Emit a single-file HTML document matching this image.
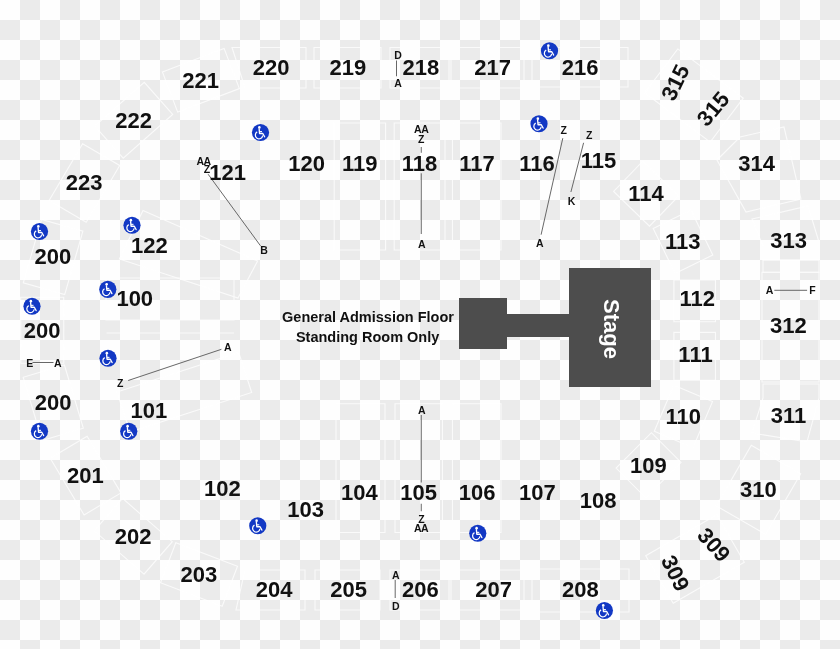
<!DOCTYPE html>
<html><head><meta charset="utf-8"><style>
html,body{margin:0;padding:0;width:840px;height:649px;overflow:hidden;background:#fefefe;}
svg{position:absolute;left:0;top:0;display:block;will-change:transform}
text{font-family:"Liberation Sans",sans-serif;font-weight:bold}
</style></head><body>
<svg width="840" height="649" viewBox="0 0 840 649">
<defs>
<pattern id="ck" x="0" y="0" width="40" height="40" patternUnits="userSpaceOnUse">
<rect x="0" y="0" width="40" height="40" fill="#fefefe"/>
<rect x="20" y="0" width="20" height="20" fill="#ebebeb"/>
<rect x="0" y="20" width="20" height="20" fill="#ebebeb"/>
</pattern>
<g id="wc">
<circle cx="0" cy="0" r="8.6" fill="#1238c4"/>
<circle cx="-1.15" cy="-5.1" r="1.3" fill="#fff"/>
<path d="M-1.35,-3.5 L-0.95,1.0 L2.3,1.0 L4.1,4.3" fill="none" stroke="#fff" stroke-width="1.35" stroke-linejoin="round" stroke-linecap="round"/>
<path d="M-1.1,-0.9 L1.5,-0.9" fill="none" stroke="#fff" stroke-width="1.1"/>
<path d="M-3.3,-0.6 A3.7,3.7 0 1 0 2.2,3.0" fill="none" stroke="#fff" stroke-width="1.25"/>
</g>
</defs>
<rect x="0" y="0" width="840" height="649" fill="url(#ck)"/>

<g fill="none" stroke="#ffffff" stroke-width="1.1" opacity="0.75">
<polygon points="232,47.5 306,47.5 306,88 245,88"/>
<polygon points="314,47.5 381,47.5 381,88 314,88"/>
<polygon points="390,47.5 449,47.5 449,88 390,88"/>
<polygon points="451,47.5 524,47.5 524,88 451,88"/>
<polygon points="532,47.5 628,47.5 628,87 532,87"/>
<polygon points="245,570 305,570 305,610 236,610"/>
<polygon points="315,570 380,570 380,610 315,610"/>
<polygon points="390,570 449,570 449,610 390,610"/>
<polygon points="451,570 524,570 524,610 451,610"/>
<polygon points="532,569 629,569 629,612 532,612"/>
<polygon points="334.2,123 385.6,123 385.6,250 334.2,250"/>
<polygon points="394.2,123 445,123 445,250 394.2,250"/>
<polygon points="452.5,123 501,123 501,250 452.5,250"/>
<polygon points="336,403.75 385,403.75 385,532.5 336,532.5"/>
<polygon points="395,403.75 442.5,403.75 442.5,532.5 395,532.5"/>
<polygon points="452.5,403.75 501,403.75 501,532.5 452.5,532.5"/>
<polygon points="673.9,280 715.5,280 715.5,321.7 673.9,321.7"/>
<polygon points="673.9,332.4 715.5,332.4 715.5,380.2 673.9,380.2"/>
<polygon points="762,272.4 819,272.4 819,382 762,382"/>
<polygon points="162.4,71.9 224.1,48.4 239.4,88.6 177.7,112.1"/>
<polygon points="94.8,126.0 144.3,82.3 172.7,114.5 123.2,158.2"/>
<polygon points="49.1,200.5 82.6,143.7 119.7,165.5 86.2,222.3"/>
<polygon points="23.3,282.8 41.5,219.4 82.9,231.2 64.7,294.6"/>
<polygon points="20.8,363.3 20.7,297.3 63.7,297.2 63.8,363.2"/>
<polygon points="42.1,440.5 23.2,377.3 64.4,365.0 83.3,428.2"/>
<polygon points="84.1,515.0 50.2,458.3 87.1,436.2 121.0,492.9"/>
<polygon points="144.0,574.1 94.2,530.8 122.5,498.4 172.3,541.7"/>
<polygon points="222.2,606.3 160.5,582.8 175.8,542.7 237.5,566.2"/>
<polygon points="143,210.5 257.6,261 238,298 119.4,259"/>
<polygon points="106,278 234,278 234,320 106,320"/>
<polygon points="106.5,333 234,333"/>
<polygon points="117,392 238.7,352.5 251.7,392.5 130,432"/>
<polygon points="717,160 740,137 784,127 801,199 746,212"/>
<polygon points="752,219 808,206 819,242 819,260 763,260 763,246"/>
<polygon points="763,260 819,260 819,272.4 763,272.4"/>
<polygon points="763,384 819,384 819,398 807,442 752,433 763,398"/>
<polygon points="800.7,473.8 765.7,534.4 716.3,505.9 751.3,445.3"/>
<polygon points="677.8,48.9 743.3,98.2 710.2,142.1 644.7,92.8"/>
<polygon points="744.3,562.3 673.2,603.3 645.7,555.7 716.8,514.7"/>
<polygon points="642.8,161.2 678.7,196.0 649.5,226.2 613.6,191.4"/>
<polygon points="690.9,210.1 712.8,255.1 675.1,273.5 653.2,228.5"/>
<polygon points="712.5,401.6 693.0,447.7 654.3,431.3 673.8,385.2"/>
<polygon points="681.1,462.4 645.8,497.8 616.1,468.1 651.4,432.7"/>
</g>
<g fill="#4d4d4d"><rect x="569" y="268" width="82" height="119"/><rect x="459" y="298" width="48" height="51"/><rect x="506" y="314" width="64" height="23"/></g>
<text x="611.5" y="329" transform="rotate(90 611.5 329)" text-anchor="middle" dominant-baseline="central" fill="#fff" font-size="22">Stage</text>
<g fill="#111" font-size="14.5" text-anchor="middle"><text x="368" y="322.4">General Admission Floor</text><text x="367.6" y="342.1">Standing Room Only</text></g>
<g stroke="#606060" stroke-width="0.95" fill="none">
<line x1="396.5" y1="60.5" x2="396.5" y2="76.25"/>
<line x1="421.25" y1="147" x2="421.25" y2="152.8"/>
<line x1="421.25" y1="173.3" x2="421.25" y2="234"/>
<line x1="208.1" y1="174.2" x2="260.5" y2="245.8"/>
<line x1="562.8" y1="138.2" x2="541.1" y2="234.7"/>
<line x1="583.6" y1="142.8" x2="570.9" y2="192"/>
<line x1="32.5" y1="362.5" x2="53.5" y2="362.5"/>
<line x1="128.2" y1="380.5" x2="221.4" y2="349.3"/>
<line x1="774.3" y1="290.3" x2="807.1" y2="290.3"/>
<line x1="421.25" y1="415" x2="421.25" y2="482.5"/>
<line x1="421.25" y1="503.75" x2="421.25" y2="511.25"/>
<line x1="395.2" y1="580" x2="395.2" y2="598"/>
</g>
<g fill="#111" font-size="22" text-anchor="middle">
<text x="200.70" y="87.73">221</text>
<text x="271.05" y="75.23">220</text>
<text x="347.80" y="75.23">219</text>
<text x="420.90" y="74.88">218</text>
<text x="492.55" y="75.23">217</text>
<text x="580.05" y="75.23">216</text>
<text x="133.55" y="127.73">222</text>
<text x="84.20" y="190.48">223</text>
<text x="52.90" y="264.48">200</text>
<text x="42.05" y="337.73">200</text>
<text x="53.05" y="410.23">200</text>
<text x="85.40" y="483.08">201</text>
<text x="133.05" y="543.73">202</text>
<text x="198.80" y="581.98">203</text>
<text x="274.20" y="597.48">204</text>
<text x="348.55" y="597.48">205</text>
<text x="420.45" y="597.18">206</text>
<text x="493.60" y="597.18">207</text>
<text x="580.40" y="596.98">208</text>
<text x="227.60" y="180.18">121</text>
<text x="306.70" y="171.23">120</text>
<text x="359.80" y="170.73">119</text>
<text x="419.55" y="170.73">118</text>
<text x="476.90" y="170.73">117</text>
<text x="537.05" y="170.73">116</text>
<text x="598.55" y="168.38">115</text>
<text x="645.95" y="201.18">114</text>
<text x="682.80" y="249.28">113</text>
<text x="697.30" y="305.78">112</text>
<text x="695.50" y="361.83">111</text>
<text x="683.20" y="423.93">110</text>
<text x="648.40" y="472.73">109</text>
<text x="598.20" y="507.73">108</text>
<text x="537.40" y="500.23">107</text>
<text x="477.05" y="500.38">106</text>
<text x="418.55" y="500.38">105</text>
<text x="359.40" y="500.38">104</text>
<text x="305.70" y="516.88">103</text>
<text x="222.30" y="496.23">102</text>
<text x="148.80" y="418.48">101</text>
<text x="134.75" y="306.48">100</text>
<text x="149.30" y="252.93">122</text>
<text x="756.60" y="171.13">314</text>
<text x="788.65" y="247.68">313</text>
<text x="788.45" y="332.58">312</text>
<text x="788.45" y="422.88">311</text>
<text x="758.30" y="497.33">310</text>
<text x="714.10" y="552.48" transform="rotate(49 714.1 544.6)">309</text>
<text x="675.60" y="580.88" transform="rotate(64 675.6 573.0)">309</text>
<text x="675.10" y="90.28" transform="rotate(-64 675.1 82.4)">315</text>
<text x="712.80" y="116.38" transform="rotate(-50 712.8 108.5)">315</text>
</g>
<g fill="#111" font-size="10.5" text-anchor="middle" letter-spacing="-0.4">
<text x="397.90" y="59.16">D</text>
<text x="397.75" y="87.16">A</text>
<text x="421.25" y="132.86">AA</text>
<text x="420.90" y="142.76">Z</text>
<text x="421.60" y="247.51">A</text>
<text x="203.60" y="164.76">AA</text>
<text x="206.80" y="173.16">Z</text>
<text x="263.85" y="253.71">B</text>
<text x="563.50" y="133.76">Z</text>
<text x="539.60" y="247.11">A</text>
<text x="589.10" y="139.01">Z</text>
<text x="571.35" y="205.01">K</text>
<text x="29.50" y="367.16">E</text>
<text x="57.50" y="367.16">A</text>
<text x="120.00" y="386.76">Z</text>
<text x="227.70" y="350.96">A</text>
<text x="769.30" y="294.01">A</text>
<text x="812.25" y="294.01">F</text>
<text x="421.50" y="413.51">A</text>
<text x="421.25" y="522.86">Z</text>
<text x="421.10" y="532.16">AA</text>
<text x="395.50" y="579.46">A</text>
<text x="395.60" y="609.76">D</text>
</g>
<use href="#wc" x="549.5" y="50.75"/>
<use href="#wc" x="539" y="123.75"/>
<use href="#wc" x="260.5" y="132.5"/>
<use href="#wc" x="39.5" y="231.5"/>
<use href="#wc" x="132" y="225.25"/>
<use href="#wc" x="107.8" y="289.3"/>
<use href="#wc" x="32" y="306.25"/>
<use href="#wc" x="108" y="358.25"/>
<use href="#wc" x="39.5" y="431.25"/>
<use href="#wc" x="128.75" y="431.25"/>
<use href="#wc" x="257.75" y="525.75"/>
<use href="#wc" x="477.75" y="533.25"/>
<use href="#wc" x="604.4" y="610.5"/>
</svg></body></html>
